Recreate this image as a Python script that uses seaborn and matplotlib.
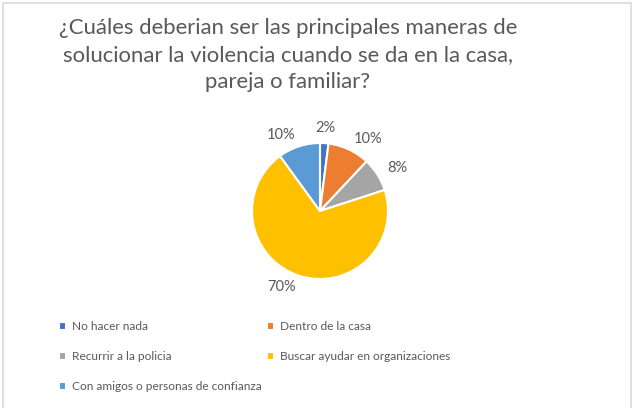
import matplotlib
matplotlib.use("Agg")
import matplotlib.pyplot as plt
import seaborn as sns
from matplotlib.patches import Rectangle

categories = ["No hacer nada", "Dentro de la casa", "Recurrir a la policia",
              "Buscar ayudar en organizaciones", "Con amigos o personas de confianza"]
values = [2, 10, 8, 70, 10]
colors = ["#4472C4", "#ED7D31", "#A5A5A5", "#FFC000", "#5B9BD5"]
title = "¿Cuáles deberian ser las principales maneras de\nsolucionar la violencia cuando se da en la casa,\npareja o familiar?"

sns.set_theme(style="white")
plt.rcParams['font.family'] = ['Lato', 'DejaVu Sans']
TXT = "#595959"

W, H = 637, 408
fig = plt.figure(figsize=(W / 100, H / 100), dpi=100)
fig.patch.set_facecolor("white")

cx, cy, r = 320, 211, 68
ax = fig.add_axes([(cx - r) / W, (H - cy - r) / H, 2 * r / W, 2 * r / H])
labels = [f"{v:.0f}%" for v in values]
wedges, texts = ax.pie(values, colors=colors, startangle=90, counterclock=False,
                       labels=labels, labeldistance=1.17,
                       wedgeprops=dict(edgecolor="white", linewidth=1.5),
                       textprops=dict(color=TXT, fontsize=10.5))
for t in texts:
    x, y = t.get_position()
    if abs(x) < 0.15:
        t.set_ha("center")
        t.set_va("bottom")
        t.set_position((x, y - 0.05))
ax.set_xlim(-1, 1)
ax.set_ylim(-1, 1)
ax.set_aspect("equal")
ax.axis("off")

fig.text(288 / W, 1 - 55 / H, title, ha="center", va="center", fontsize=15.9,
         color=TXT, linespacing=1.42)

order = [0, 2, 4, 1, 3]
leg = fig.legend([wedges[i] for i in order], [categories[i] for i in order],
                 ncol=2, loc="upper left", bbox_to_anchor=(59 / W, 1 - 321 / H),
                 frameon=False, fontsize=8.6, labelcolor=TXT,
                 handlelength=0.6, handleheight=0.6, handletextpad=0.5,
                 columnspacing=0.4, labelspacing=1.6, borderpad=0, borderaxespad=0)

fig.patches.append(Rectangle((3 / W, -0.05), 628 / W, 1.05 - 3 / H,
                             transform=fig.transFigure, fill=False,
                             edgecolor="#D9D9D9", linewidth=1.2))

fig.savefig("out.png", dpi=100)
